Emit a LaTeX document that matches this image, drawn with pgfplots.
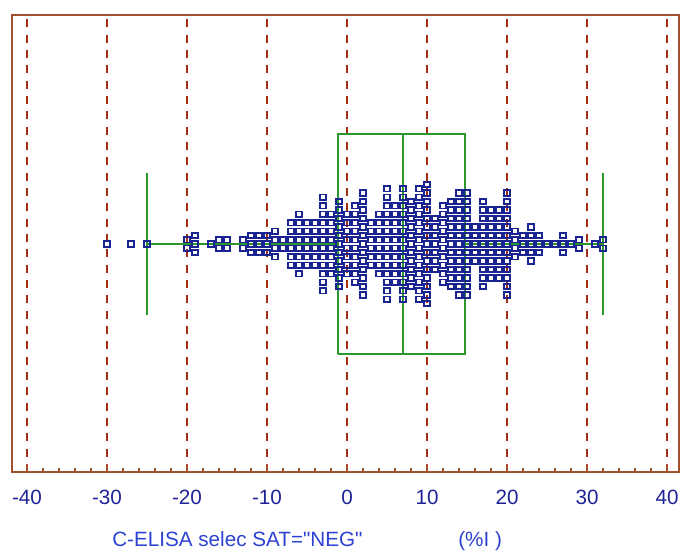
\documentclass[border=0pt]{standalone}
\usepackage{fontspec}
\setmainfont{Liberation Sans}[Ligatures=TeXOff]
\usepackage{pgfplots}
\pgfplotsset{compat=1.18}
\usepackage{xcolor}

\definecolor{frame}{RGB}{160,80,45}
\definecolor{gridred}{RGB}{165,45,15}
\definecolor{boxgreen}{RGB}{45,150,45}
\definecolor{dotblue}{RGB}{25,35,145}
\definecolor{ticktext}{RGB}{30,35,150}
\definecolor{labeltext}{RGB}{45,65,210}

\begin{document}
\begin{tikzpicture}
% 1 px of the reference = 0.75pt
\useasboundingbox (0,0) rectangle (510pt,413.25pt);
\begin{axis}[
    at={(9pt,59.25pt)}, anchor=south west,
    scale only axis,
    width=500.25pt, height=342.75pt,
    xmin=-41.875, xmax=41.5,
    ymin=-26.82, ymax=26.94,
    axis line style={frame, line width=1.6pt},
    xtick={-40,-30,...,40},
    xticklabels={-40,-30,-20,-10,0,10,20,30,40},
    minor x tick num=4,
    ytick=\empty,
    xtick pos=bottom,
    tick align=inside,
    major tick length=6pt, minor tick length=3.2pt,
    every tick/.style={frame, line width=1.3pt},
    xmajorgrids,
    major grid style={gridred, line width=1.3pt, dash pattern=on 6pt off 5.5pt},
    xticklabel style={inner sep=0pt, anchor=north, yshift=-13pt,
        font=\fontsize{15.5}{18}\selectfont, text=ticktext},
    clip=false,
]
% box and whiskers
\addplot[boxgreen, line width=1.4pt] coordinates {(-1.1,-12.9) (14.75,-12.9) (14.75,12.9) (-1.1,12.9) (-1.1,-12.9)};
\addplot[boxgreen, line width=1.4pt] coordinates {(7,-12.9) (7,12.9)};
\addplot[boxgreen, line width=1.4pt] coordinates {(-25,0) (-1.1,0)};
\addplot[boxgreen, line width=1.4pt] coordinates {(14.75,0) (32,0)};
\addplot[boxgreen, line width=1.4pt] coordinates {(-25,-8.4) (-25,8.4)};
\addplot[boxgreen, line width=1.4pt] coordinates {(32,-8.4) (32,8.4)};

% individual values (x in %, y = stacking position)
\addplot[only marks, mark=square, mark size=2.0pt,
         mark options={draw=dotblue, line width=1.3pt}] coordinates {
(-30,0) (-27,0) (-25,0)
(-20,-0.5) (-20,0.5)
(-19,-1) (-19,0) (-19,1)
(-17,0)
(-16,-0.5) (-16,0.5)
(-15,-0.5) (-15,0.5)
(-13,-0.5) (-13,0.5)
(-12,-1) (-12,0) (-12,1)
(-11,-1) (-11,0) (-11,1)
(-10,-1) (-10,0) (-10,1)
(-9,-1.5) (-9,-0.5) (-9,0.5) (-9,1.5)
(-8,-0.5) (-8,0.5)
(-7,-2.5) (-7,-1.5) (-7,-0.5) (-7,0.5) (-7,1.5) (-7,2.5)
(-6,-3.5) (-6,-2.5) (-6,-1.5) (-6,-0.5) (-6,0.5) (-6,1.5) (-6,2.5) (-6,3.5)
(-5,-2.5) (-5,-1.5) (-5,-0.5) (-5,0.5) (-5,1.5) (-5,2.5)
(-4,-2.5) (-4,-1.5) (-4,-0.5) (-4,0.5) (-4,1.5) (-4,2.5)
(-3,-5.5) (-3,-4.5) (-3,-3.5) (-3,-2.5) (-3,-1.5) (-3,-0.5) (-3,0.5) (-3,1.5) (-3,2.5) (-3,3.5) (-3,4.5) (-3,5.5)
(-2,-3.5) (-2,-2.5) (-2,-1.5) (-2,-0.5) (-2,0.5) (-2,1.5) (-2,2.5) (-2,3.5)
(-1,-5) (-1,-4) (-1,-3) (-1,-2) (-1,-1) (-1,0) (-1,1) (-1,2) (-1,3) (-1,4) (-1,5)
(0,-3.5) (0,-2.5) (0,-1.5) (0,-0.5) (0,0.5) (0,1.5) (0,2.5) (0,3.5)
(1,-4.5) (1,-3.5) (1,-2.5) (1,-1.5) (1,-0.5) (1,0.5) (1,1.5) (1,2.5) (1,3.5) (1,4.5)
(2,-6) (2,-5) (2,-4) (2,-3) (2,-2) (2,-1) (2,0) (2,1) (2,2) (2,3) (2,4) (2,5) (2,6)
(3,-2.5) (3,-1.5) (3,-0.5) (3,0.5) (3,1.5) (3,2.5)
(4,-3.5) (4,-2.5) (4,-1.5) (4,-0.5) (4,0.5) (4,1.5) (4,2.5) (4,3.5)
(5,-6.5) (5,-5.5) (5,-4.5) (5,-3.5) (5,-2.5) (5,-1.5) (5,-0.5) (5,0.5) (5,1.5) (5,2.5) (5,3.5) (5,4.5) (5,5.5) (5,6.5)
(6,-4.5) (6,-3.5) (6,-2.5) (6,-1.5) (6,-0.5) (6,0.5) (6,1.5) (6,2.5) (6,3.5) (6,4.5)
(7,-6.5) (7,-5.5) (7,-4.5) (7,-3.5) (7,-2.5) (7,-1.5) (7,-0.5) (7,0.5) (7,1.5) (7,2.5) (7,3.5) (7,4.5) (7,5.5) (7,6.5)
(8,-5) (8,-4) (8,-3) (8,-2) (8,-1) (8,0) (8,1) (8,2) (8,3) (8,4) (8,5)
(9,-6.5) (9,-5.5) (9,-4.5) (9,-3.5) (9,-2.5) (9,-1.5) (9,-0.5) (9,0.5) (9,1.5) (9,2.5) (9,3.5) (9,4.5) (9,5.5) (9,6.5)
(10,-7) (10,-6) (10,-5) (10,-4) (10,-3) (10,-2) (10,-1) (10,0) (10,1) (10,2) (10,3) (10,4) (10,5) (10,6) (10,7)
(11,-3) (11,-2) (11,-1) (11,0) (11,1) (11,2) (11,3)
(12,-4.5) (12,-3.5) (12,-2.5) (12,-1.5) (12,-0.5) (12,0.5) (12,1.5) (12,2.5) (12,3.5) (12,4.5)
(13,-5) (13,-4) (13,-3) (13,-2) (13,-1) (13,0) (13,1) (13,2) (13,3) (13,4) (13,5)
(14,-6) (14,-5) (14,-4) (14,-3) (14,-2) (14,-1) (14,0) (14,1) (14,2) (14,3) (14,4) (14,5) (14,6)
(15,-6) (15,-5) (15,-4) (15,-3) (15,-2) (15,-1) (15,0) (15,1) (15,2) (15,3) (15,4) (15,5) (15,6)
(16,-2) (16,-1) (16,0) (16,1) (16,2)
(17,-5) (17,-4) (17,-3) (17,-2) (17,-1) (17,0) (17,1) (17,2) (17,3) (17,4) (17,5)
(18,-4) (18,-3) (18,-2) (18,-1) (18,0) (18,1) (18,2) (18,3) (18,4)
(19,-4) (19,-3) (19,-2) (19,-1) (19,0) (19,1) (19,2) (19,3) (19,4)
(20,-6) (20,-5) (20,-4) (20,-3) (20,-2) (20,-1) (20,0) (20,1) (20,2) (20,3) (20,4) (20,5) (20,6)
(21,-1.5) (21,-0.5) (21,0.5) (21,1.5)
(22,-1) (22,0) (22,1)
(23,-2) (23,-1) (23,0) (23,1) (23,2)
(24,-1) (24,0) (24,1)
(25,0) (26,0)
(27,-1) (27,0) (27,1)
(28,0)
(29,-0.5) (29,0.5)
(31,0)
(32,-0.5) (32,0.5)
};
\end{axis}
\node[anchor=base west, inner sep=0pt, text=labeltext, font=\fontsize{15.5}{18}\selectfont]
    at (84pt,3.75pt) {C-ELISA selec SAT="NEG"};
\node[anchor=base west, inner sep=0pt, text=labeltext, font=\fontsize{15.5}{18}\selectfont]
    at (343.5pt,3.75pt) {(\%I )};
\end{tikzpicture}
\end{document}
